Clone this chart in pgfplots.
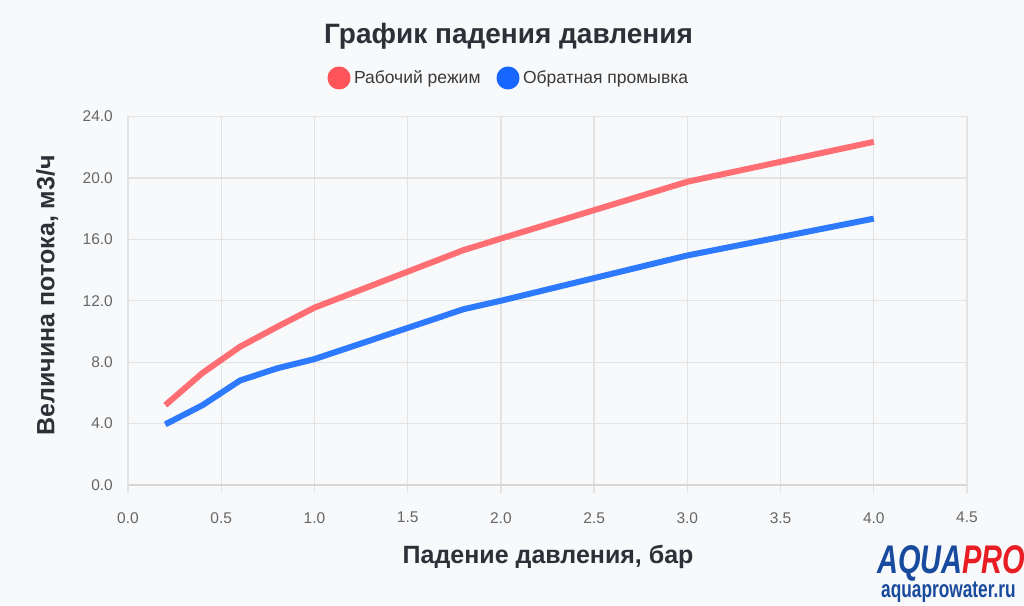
\documentclass[border=0pt]{standalone}
\usepackage{fontspec}
\setmainfont{Liberation Sans}
\usepackage{graphicx}
\usepackage{pgfplots}
\pgfplotsset{compat=1.18}
\definecolor{bg}{HTML}{F8F9FB}
\definecolor{titlecol}{HTML}{2B3137}
\definecolor{tickcol}{HTML}{666666}
\definecolor{legtext}{HTML}{3A3A3A}
\definecolor{gridcol}{HTML}{E3E3E3}
\definecolor{axiscol}{HTML}{D6D6D6}
\definecolor{linered}{RGB}{255,110,114}
\definecolor{lineblue}{RGB}{46,122,255}
\definecolor{legred}{RGB}{255,84,90}
\definecolor{legblue}{RGB}{22,102,255}
\definecolor{logoblue}{RGB}{24,74,158}
\definecolor{logored}{RGB}{232,30,36}
\begin{document}
\begin{tikzpicture}[x=1pt,y=1pt]
\useasboundingbox (0,0) rectangle (1024,605);
\fill[bg] (0,0) rectangle (1024,605);
\node[anchor=base, text=titlecol, font=\fontsize{28}{30}\selectfont\bfseries, inner sep=0pt] at (508.5,561.7) {График падения давления};
\begin{axis}[
  at={(128pt,120pt)}, anchor=south west,
  scale only axis, width=839pt, height=368.5pt,
  xmin=0, xmax=4.5, ymin=0, ymax=24,
  xtick={0,0.5,1,1.5,2,2.5,3,3.5,4,4.5},
  ytick={0,4,8,12,16,20,24},
  axis x line*=bottom, axis y line*=left,
  x axis line style={draw=axiscol, line width=2pt, -},
  y axis line style={draw=gridcol, line width=1.3pt, -},
  grid=major,
  major grid style={draw=gridcol, line width=1.3pt},
  tick align=outside,
  major tick length=8pt,
  xtick style={draw=gridcol, line width=1.3pt},
  ytick style={draw=none},
  /pgf/number format/fixed,
  /pgf/number format/fixed zerofill,
  /pgf/number format/precision=1,
  /pgf/number format/assume math mode=true,
  tick label style={font=\fontsize{15.5}{18}\selectfont, text=tickcol},
  yticklabel style={anchor=east, inner sep=0pt, xshift=-7pt},
  xticklabel style={anchor=north, inner sep=0pt, yshift=-19pt},
  xlabel={Падение давления, бар},
  ylabel={Величина потока, м3/ч},
  label style={font=\fontsize{25}{28}\selectfont\bfseries, text=titlecol, inner sep=0pt},
  xlabel style={at={(axis description cs:0.5007,-0.2125)}, anchor=base},
  ylabel style={at={(axis description cs:-0.0878,0.515)}, anchor=base, rotate=0},
  legend columns=2,
  legend style={at={(axis description cs:0.4527,1.1045)}, anchor=center,
    draw=none, fill=none, font=\fontsize{17.5}{20}\selectfont, text=legtext,
    /tikz/every even column/.append style={column sep=16pt},
    nodes={inner sep=0pt}},
]
\addplot[draw=linered, line width=6pt, line cap=butt, line join=round,
  legend image code/.code={\fill[legred] (0pt,0pt) circle (8.5pt); \path (12pt,0pt);}]
  coordinates {(0.2,5.2) (0.4,7.3) (0.6,9.0) (0.8,10.3) (1.0,11.55) (1.8,15.3) (2.0,16.05) (3.0,19.75) (4.0,22.35)};
\addlegendentry{Рабочий режим}
\addplot[draw=lineblue, line width=6pt, line cap=butt, line join=round,
  legend image code/.code={\fill[legblue] (0pt,0pt) circle (8.5pt); \path (12pt,0pt);}]
  coordinates {(0.2,3.95) (0.4,5.2) (0.6,6.8) (0.8,7.6) (1.0,8.2) (1.8,11.45) (2.0,12.0) (3.0,14.95) (4.0,17.35)};
\addlegendentry{Обратная промывка}
\end{axis}
\node[anchor=base west, inner sep=0pt, text depth=0pt] at (877,32) {\scalebox{0.725}[1]{\fontsize{40}{40}\selectfont\bfseries\itshape\color{logoblue}AQUA\color{logored}PRO}};
\node[anchor=base west, inner sep=0pt, text height=11pt] at (881,7.5) {\scalebox{0.72}[1]{\fontsize{24}{26}\selectfont\bfseries\color{logoblue}aquaprowater.ru}};
\end{tikzpicture}
\end{document}
